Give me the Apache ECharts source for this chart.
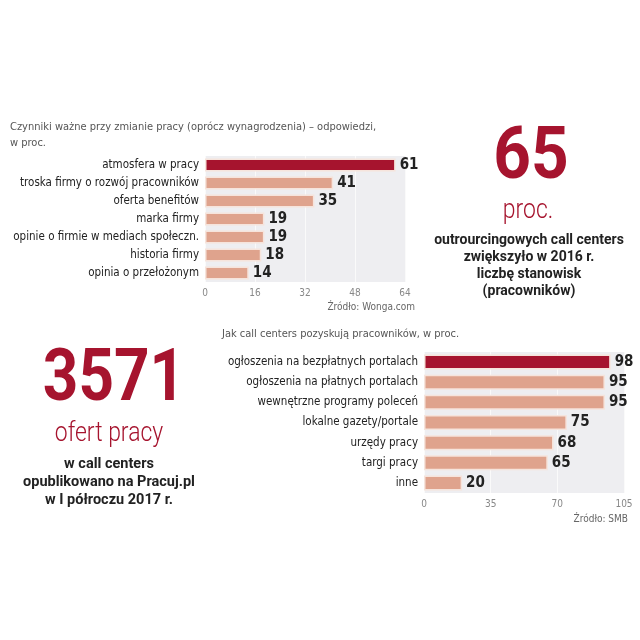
<!DOCTYPE html>
<html><head><meta charset="utf-8">
<script src="https://cdn.jsdelivr.net/npm/echarts@6/dist/echarts.min.js"></script>
<style>html,body{margin:0;padding:0;background:#fff}#c{width:640px;height:640px}</style>
</head><body><div id="c"></div>
<script>
const cats1 = ['atmosfera w pracy','troska firmy o rozwój pracowników','oferta benefitów','marka firmy','opinie o firmie w mediach społeczn.','historia firmy','opinia o przełożonym'];
const vals1 = [61,41,35,19,19,18,14];
const ticks1 = {min:0,max:64,interval:16};
const cats2 = ['ogłoszenia na bezpłatnych portalach','ogłoszenia na płatnych portalach','wewnętrzne programy poleceń','lokalne gazety/portale','urzędy pracy','targi pracy','inne'];
const vals2 = [98,95,95,75,68,65,20];
const ticks2 = {min:0,max:105,interval:35};

const RED='#a6142e', SAL='#dfa38d', F='"DejaVu Sans Condensed", "Liberation Sans Narrow", sans-serif', R='Roboto, "Noto Sans", sans-serif';
function col(v,i){return i===0?RED:SAL;}
const chart = echarts.init(document.getElementById('c'));
function mk(vals){return vals.map((v,i)=>({value:v,itemStyle:{color:col(v,i)}}));}
const lblStyle={color:'#222',fontFamily:F,fontSize:11.5};
const valLbl={show:true,position:'right',distance:4,color:'#222',fontFamily:F,fontWeight:'bold',fontSize:15};
const gridBase={show:true,backgroundColor:'#eeeef1',borderWidth:0,containLabel:false,outerBoundsMode:'none'};
chart.setOption({
  animation:false,
  grid:[
    Object.assign({left:205,width:200,top:156,height:126},gridBase),
    Object.assign({left:424,width:200,top:352,height:141},gridBase)
  ],
  xAxis:[
    {gridIndex:0,type:'value',min:ticks1.min,max:ticks1.max,interval:ticks1.interval,axisLine:{show:false},axisTick:{show:false},
     splitLine:{lineStyle:{color:'#fafafa',width:1}},axisLabel:{color:'#888',fontFamily:F,fontSize:10,margin:6}},
    {gridIndex:1,type:'value',min:ticks2.min,max:ticks2.max,interval:ticks2.interval,axisLine:{show:false},axisTick:{show:false},
     splitLine:{lineStyle:{color:'#fafafa',width:1}},axisLabel:{color:'#888',fontFamily:F,fontSize:10,margin:6}}
  ],
  yAxis:[
    {gridIndex:0,type:'category',inverse:true,data:cats1,axisLine:{show:false},axisTick:{show:false},axisLabel:Object.assign({margin:6},lblStyle)},
    {gridIndex:1,type:'category',inverse:true,data:cats2,axisLine:{show:false},axisTick:{show:false},axisLabel:Object.assign({margin:6},lblStyle)}
  ],
  series:[
    {type:'bar',xAxisIndex:0,yAxisIndex:0,data:mk(vals1),barWidth:13,itemStyle:{borderColor:'#f6e4dc',borderWidth:1.5},label:valLbl},
    {type:'bar',xAxisIndex:1,yAxisIndex:1,data:mk(vals2),barWidth:15,itemStyle:{borderColor:'#f6e4dc',borderWidth:1.5},label:valLbl}
  ],
  graphic:[
    {type:'text',left:10,top:119,style:{text:'Czynniki ważne przy zmianie pracy (oprócz wynagrodzenia) – odpowiedzi,\nw proc.',fill:'#555',font:'11px '+F,lineHeight:16}},
    {type:'text',right:225,top:302,style:{text:'Źródło: Wonga.com',fill:'#666',font:'10px '+F}},
    {type:'text',left:222,top:329,style:{text:'Jak call centers pozyskują pracowników, w proc.',fill:'#555',font:'11px '+F}},
    {type:'text',right:12,top:514,style:{text:'Źródło: SMB',fill:'#666',font:'10px '+F}},
    {type:'text',x:531,y:160,scaleX:0.9,style:{text:'65',fill:RED,font:'bold 73px '+R,align:'center',verticalAlign:'middle'}},
    {type:'text',x:528,y:211,scaleX:0.85,style:{text:'proc.',fill:RED,font:'300 27px '+R,align:'center',verticalAlign:'middle'}},
    {type:'text',x:529,y:232,style:{text:'outrourcingowych call centers\nzwiększyło w 2016 r.\nliczbę stanowisk\n(pracowników)',fill:'#222',font:'bold 14px '+R,align:'center',verticalAlign:'top',lineHeight:17}},
    {type:'text',x:114,y:382,scaleX:0.85,style:{text:'3571',fill:RED,font:'bold 73px '+R,align:'center',verticalAlign:'middle'}},
    {type:'text',x:109,y:434,scaleX:0.85,style:{text:'ofert pracy',fill:RED,font:'300 27px '+R,align:'center',verticalAlign:'middle'}},
    {type:'text',x:109,y:455,style:{text:'w call centers\nopublikowano na Pracuj.pl\nw I półroczu 2017 r.',fill:'#222',font:'bold 14.5px '+R,align:'center',verticalAlign:'top',lineHeight:18}}
  ]
});
</script></body></html>
